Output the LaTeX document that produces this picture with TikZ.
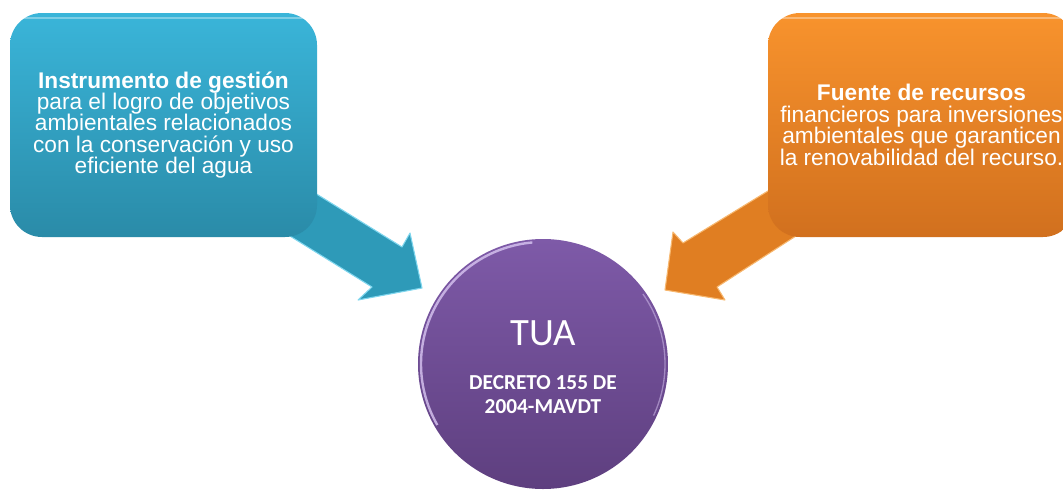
\documentclass[tikz,border=0pt]{standalone}
\usepackage{fontspec}
\setmainfont{Liberation Sans}
\newfontfamily\calibri{Carlito}
\begin{document}
\begin{tikzpicture}[x=0.75pt,y=-0.75pt,
  infobox/.style={rounded corners=24, minimum width=307*0.75pt, minimum height=224*0.75pt,
     inner sep=0pt, align=center, text=white, font=\fontsize{17}{16.1}\selectfont},
  bluebox/.style={infobox, top color=boxbluetop, bottom color=boxbluebot},
  orangebox/.style={infobox, top color=boxorangetop, bottom color=boxorangebot},
  arrowblue/.style={fill=arrblue, draw=arrbluelight, line width=0.8pt, line join=round},
  arroworange/.style={fill=arrorange, draw=arrorangelight, line width=0.8pt, line join=round},
  gloss/.style={draw=white, draw opacity=0.35, line width=2pt, rounded corners=20},
]
\definecolor{boxbluetop}{HTML}{3AB5D9}
\definecolor{boxbluebot}{HTML}{2A8BA8}
\definecolor{boxorangetop}{HTML}{F8932D}
\definecolor{boxorangebot}{HTML}{D1701E}
\definecolor{arrblue}{HTML}{2E9AB8}
\definecolor{arrbluelight}{HTML}{7FD6EE}
\definecolor{arrorange}{HTML}{E07E22}
\definecolor{arrorangelight}{HTML}{F7B870}
\definecolor{purpletop}{HTML}{7E5AA8}
\definecolor{purplebot}{HTML}{5E3F7F}
\definecolor{rim}{HTML}{D9C6F2}

\useasboundingbox (0,0) rectangle (1063,489);
\begin{scope}
\clip (0,0) rectangle (1063,489);

% arrow coordinates
\coordinate (la1) at (260,159);
\coordinate (la2) at (402,247);
\coordinate (la3) at (410,233);
\coordinate (latip) at (422,288);
\coordinate (la5) at (358,300);
\coordinate (la6) at (372,287);
\coordinate (la7) at (240,205);

\coordinate (ra1) at (830,153);
\coordinate (ra2) at (683,243);
\coordinate (ra3) at (673,232);
\coordinate (ratip) at (665,290);
\coordinate (ra5) at (725,300);
\coordinate (ra6) at (717,287);
\coordinate (ra7) at (850,201);

% connectors (block arrows) from the boxes to the circle
\filldraw[arrowblue] (la1) -- (la2) -- (la3) -- (latip) -- (la5) -- (la6) -- (la7) -- cycle;
\filldraw[arroworange] (ra1) -- (ra2) -- (ra3) -- (ratip) -- (ra5) -- (ra6) -- (ra7) -- cycle;

% boxes
\node[bluebox] (left) at (163.5,125) {%
  \raisebox{-2pt}{\parbox{300\dimexpr0.75pt\relax}{\centering
  \textbf{Instrumento de gestión}\\
  para el logro de objetivos\\
  ambientales relacionados\\
  con la conservación y uso\\
  eficiente del agua}}};
\draw[gloss] ([xshift=4pt,yshift=-4pt]left.north west) -- ([xshift=-4pt,yshift=-4pt]left.north east);

\node[orangebox] (right) at (921.5,125) {%
  \textbf{Fuente de recursos}\\
  financieros para inversiones\\
  ambientales que garanticen\\
  la renovabilidad del recurso.};
\draw[gloss] ([xshift=4pt,yshift=-4pt]right.north west) -- ([xshift=-4pt,yshift=-4pt]right.north east);

% circle
\node[circle, minimum size=250*0.75pt, inner sep=0pt, top color=purpletop, bottom color=purplebot] (tua) at (543,364) {};
\draw[rim, line width=1.8pt, opacity=0.8] (tua.center) ++(150:122) arc (150:265:122);
\draw[rim, line width=1pt, opacity=0.5] (tua.center) ++(-35:122) arc (-35:25:122);
\node[text=white, font=\calibri\fontsize{29}{32}\selectfont] (tuatitle) at (543,333) {TUA};
\node[text=white, align=center, font=\calibri\bfseries\fontsize{16}{18}\selectfont] (tuasub) at (543,395) {DECRETO 155 DE\\2004-MAVDT};
\end{scope}
\end{tikzpicture}
\end{document}
